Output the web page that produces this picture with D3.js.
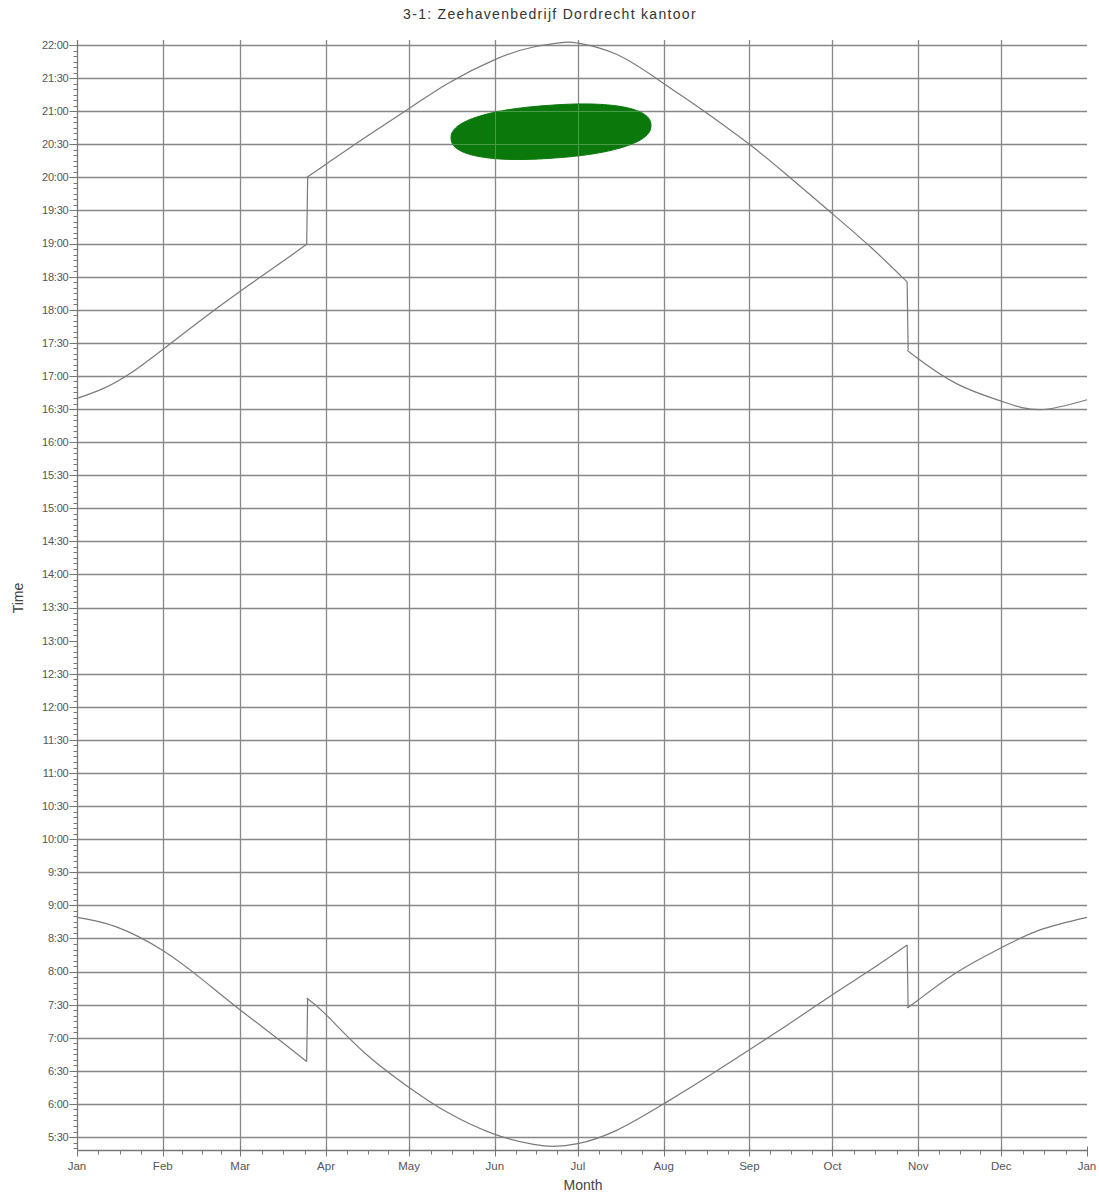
<!DOCTYPE html>
<html><head><meta charset="utf-8">
<script src="https://cdn.jsdelivr.net/npm/d3@7"></script>
<style>
body{margin:0;background:#fff;}
svg text{font-family:"Liberation Sans",Arial,sans-serif;}
</style></head>
<body><svg id="c" width="1099" height="1195"></svg>
<script>
const title = "3-1: Zeehavenbedrijf Dordrecht kantoor";
const monthLabels = ["Jan","Feb","Mar","Apr","May","Jun","Jul","Aug","Sep","Oct","Nov","Dec","Jan"];
const monthStartDays = [0,31,59,90,120,151,181,212,243,273,304,334,365];
// sunset (hours) by day of year; repeated day = clock change
const sunsetDays =  [0,10,20,31,45,59,73,83,83,90,104,120,134,151,165,176,181,195,212,226,243,257,273,287,300,300,304,318,334,348,365];
const sunsetTimes = [16.66,16.82,17.06,17.40,17.85,18.28,18.69,18.99,20.0,20.2,20.6,21.04,21.42,21.78,21.97,22.04,22.03,21.86,21.42,21.02,20.5,20.02,19.45,18.94,18.42,17.39,17.26,16.88,16.62,16.49,16.64];
// sunrise (hours) by day of year
const sunriseDays =  [0,14,31,45,59,73,83,83,90,104,120,134,151,165,172,181,195,212,226,243,257,273,287,300,300,304,318,334,348,365];
const sunriseTimes = [8.82,8.68,8.32,7.89,7.42,6.97,6.64,7.60,7.35,6.77,6.25,5.87,5.54,5.39,5.36,5.40,5.60,6.00,6.36,6.82,7.20,7.65,8.03,8.40,7.45,7.57,7.99,8.36,8.63,8.82];
// y ticks every 30 minutes (hours)
const yTickHours = d3.range(11,45).map(k=>k/2);
const noGridHours = [13.0];
// annotation blob (centre day, centre time, half width days, half height hours)
const blobDay = 171.3, blobTime = 20.69, blobHalfDays = 36.2, blobHalfHours = 0.40;

const svg = d3.select("#c");
const L=77, R=1087, T=40, B=1150;
const x = d3.scaleLinear().domain([0,365]).range([L,R]);
const y = d3.scaleLinear().domain([5.304,22.076]).range([B,T]);
const gridCol="#878787", axisCol="#777";
const fmt = h => { const hh=Math.floor(h+1e-6), mm=Math.round((h-hh)*60); return hh+":"+(mm<10?"0":"")+mm; };
const gridH = yTickHours.filter(h=>!noGridHours.some(g=>Math.abs(g-h)<1e-6));
const gridV = monthStartDays.slice(1,12);

function drawGrid(g,col,w){
  g.append("g").selectAll("line").data(gridH).join("line")
    .attr("x1",L).attr("x2",R).attr("y1",d=>Math.round(y(d))+0.5).attr("y2",d=>Math.round(y(d))+0.5)
    .attr("stroke",col).attr("stroke-width",w);
  g.append("g").selectAll("line").data(gridV).join("line")
    .attr("x1",d=>Math.round(x(d))+0.5).attr("x2",d=>Math.round(x(d))+0.5).attr("y1",T).attr("y2",B)
    .attr("stroke",col).attr("stroke-width",w);
}
drawGrid(svg,gridCol,1.3);

// y axis
const yMinor = d3.range(64,265).map(k=>k/12).filter(h=>h>=5.304&&h<=22.076);
const ya = svg.append("g").attr("transform",`translate(${L+0.5},0)`);
ya.append("line").attr("y1",T).attr("y2",B).attr("stroke",axisCol).attr("stroke-width",1.3);
ya.selectAll(".mn").data(yMinor).join("line").attr("class","mn")
  .attr("x1",-4).attr("x2",0).attr("y1",d=>Math.round(y(d))+0.5).attr("y2",d=>Math.round(y(d))+0.5).attr("stroke",axisCol);
ya.selectAll(".mj").data(yTickHours).join("line").attr("class","mj")
  .attr("x1",-8).attr("x2",0).attr("y1",d=>Math.round(y(d))+0.5).attr("y2",d=>Math.round(y(d))+0.5).attr("stroke",axisCol);
ya.selectAll("text").data(yTickHours).join("text")
  .attr("x",-9).attr("y",d=>y(d)).attr("dy","0.35em").attr("text-anchor","end")
  .attr("font-size",11).attr("fill","#555").attr("letter-spacing","-0.2").text(fmt);

// x axis
const xMinor = [];
for(let i=0;i<12;i++){const a=monthStartDays[i],b=monthStartDays[i+1];for(let k=1;k<4;k++)xMinor.push(a+(b-a)*k/4);}
const xa = svg.append("g").attr("transform",`translate(0,${B+0.5})`);
xa.append("line").attr("x1",L).attr("x2",R).attr("stroke",axisCol).attr("stroke-width",1.3);
xa.selectAll(".mn").data(xMinor).join("line").attr("class","mn")
  .attr("x1",d=>Math.round(x(d))+0.5).attr("x2",d=>Math.round(x(d))+0.5).attr("y1",0).attr("y2",4).attr("stroke",axisCol);
xa.selectAll(".mj").data(monthStartDays).join("line").attr("class","mj")
  .attr("x1",d=>Math.round(x(d))+0.5).attr("x2",d=>Math.round(x(d))+0.5).attr("y1",-4).attr("y2",6).attr("stroke",axisCol);
xa.selectAll("text").data(monthStartDays).join("text")
  .attr("x",d=>x(d)).attr("y",19).attr("text-anchor","middle")
  .attr("font-size",11.5).attr("fill","#555").text((d,i)=>monthLabels[i]);

// curves
const line = d3.line().x(d=>x(d[0])).y(d=>y(d[1])).curve(d3.curveNatural);
function segs(days,times){
  const out=[];let cur=[];
  days.forEach((d,i)=>{ if(cur.length && d===cur[cur.length-1][0]){ out.push(cur); cur=[]; }
    cur.push([d,times[i]]); });
  out.push(cur); return out;
}
[[sunsetDays,sunsetTimes],[sunriseDays,sunriseTimes]].forEach(([dd,tt])=>{
  segs(dd,tt).forEach(s=>{
    svg.append("path").attr("d",line(s)).attr("fill","none").attr("stroke","#7a7a7a").attr("stroke-width",1.2);
  });
  dd.forEach((d,i)=>{ if(i>0&&dd[i-1]===d) svg.append("line").attr("x1",x(d)).attr("x2",x(d)+1)
    .attr("y1",y(tt[i-1])).attr("y2",y(tt[i])).attr("stroke","#7a7a7a").attr("stroke-width",1.2); });
});

// green annotation (superellipse)
const cx=x(blobDay), cy=y(blobTime), rx=x(blobHalfDays)-x(0), ry=y(0)-y(blobHalfHours), rot=-4*Math.PI/180, n=2.3;
const pts=d3.range(0,2*Math.PI,0.04).map(a=>{const c=Math.cos(a), s=Math.sin(a);
  const ex=rx*Math.sign(c)*Math.pow(Math.abs(c),2/n), ey=ry*Math.sign(s)*Math.pow(Math.abs(s),2/n);
  return [cx+ex*Math.cos(rot)-ey*Math.sin(rot), cy+ex*Math.sin(rot)+ey*Math.cos(rot)];});
const blobPath = d3.line().curve(d3.curveLinearClosed)(pts);
svg.append("defs").append("clipPath").attr("id","blobclip").append("path").attr("d",blobPath);
svg.append("path").attr("d",blobPath).attr("fill","#0b780b").attr("stroke","#0b780b");
drawGrid(svg.append("g").attr("clip-path","url(#blobclip)").attr("opacity",0.25),"#ffffff",1);

// titles
svg.append("text").attr("x",550).attr("y",19).attr("text-anchor","middle").attr("font-size",14).attr("letter-spacing","1.3").attr("fill","#333").text(title);
svg.append("text").attr("x",(L+R)/2+1).attr("y",1190).attr("text-anchor","middle").attr("font-size",14).attr("fill","#444").text("Month");
svg.append("text").attr("transform",`translate(23,${(T+B)/2+3}) rotate(-90)`).attr("text-anchor","middle").attr("font-size",14).attr("fill","#444").text("Time");
</script></body></html>
